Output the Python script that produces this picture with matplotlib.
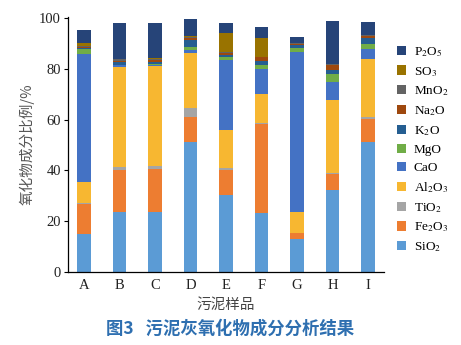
import matplotlib
matplotlib.use("Agg")
import matplotlib.pyplot as plt
from matplotlib.patches import Patch
import numpy as np

plt.rcParams['font.family'] = ['Liberation Serif', 'Noto Sans CJK SC', 'DejaVu Sans']
plt.rcParams['mathtext.fontset'] = 'stix'

samples = ['A', 'B', 'C', 'D', 'E', 'F', 'G', 'H', 'I']

# oxide contents (%) per sludge ash sample, stacked bottom to top
SiO2  = [15.1, 23.7, 23.7, 51.3, 30.3, 23.1, 12.9, 32.3, 51.3]
Fe2O3 = [11.8, 16.5, 16.7,  9.8,  9.9, 35.0,  2.3,  6.3,  8.8]
TiO2  = [ 0.2,  1.0,  1.3,  3.5,  0.6,  0.5,  0.1,  0.5,  1.0]
Al2O3 = [ 8.5, 39.4, 39.3, 21.5, 15.1, 11.5,  8.4, 28.6, 22.6]
CaO   = [50.1,  0.9,  0.6,  1.3, 27.6,  9.7, 62.8,  7.0,  4.0]
MgO   = [ 2.0,  0.2,  0.2,  1.3,  1.3,  1.7,  1.8,  3.1,  2.1]
K2O   = [ 0.4,  0.8,  1.0,  2.6,  0.6,  1.4,  1.1,  1.7,  2.2]
Na2O  = [ 0.5,  0.5,  0.6,  1.0,  1.0,  1.7,  0.4,  2.0,  1.1]
MnO2  = [ 0.2,  0.7,  0.5,  0.3,  0.3,  0.2,  0.2,  0.3,  0.2]
SO3   = [ 1.5,  0.2,  0.2,  0.2,  7.3,  7.5,  0.0,  0.0,  0.0]
P2O5  = [ 5.0, 14.0, 13.8,  6.8,  3.9,  4.3,  2.4, 17.2,  5.3]

series = [
    ('SiO$_2$', SiO2, '#5b9bd5'),
    ('Fe$_2$O$_3$', Fe2O3, '#ed7d31'),
    ('TiO$_2$', TiO2, '#a5a5a5'),
    ('Al$_2$O$_3$', Al2O3, '#f7b731'),
    ('CaO', CaO, '#4472c4'),
    ('MgO', MgO, '#70ad47'),
    ('K$_2$O', K2O, '#255e91'),
    ('Na$_2$O', Na2O, '#9e480e'),
    ('MnO$_2$', MnO2, '#636363'),
    ('SO$_3$', SO3, '#997300'),
    ('P$_2$O$_5$', P2O5, '#264478'),
]

fig = plt.figure(figsize=(4.61, 3.45), dpi=100)
ax = fig.add_axes([0.1475, 0.2116, 0.6855, 0.7391])

x = np.arange(len(samples))
bottom = np.zeros(len(samples))
handles = []
for label, vals, color in series:
    vals = np.array(vals)
    ax.bar(x, vals, width=0.39, bottom=bottom, color=color, linewidth=0)
    bottom += vals
    handles.append(Patch(facecolor=color, label=label))

ax.set_xlim(-0.45, 8.45)
ax.set_ylim(0, 100.4)
ax.set_yticks([0, 20, 40, 60, 80, 100])
ax.set_xticks(x)
ax.set_xticklabels(samples)
ax.tick_params(axis='x', length=0, pad=5, labelsize=10.5, colors='#222222')
ax.tick_params(axis='y', length=3, width=0.8, direction='out', pad=2, labelsize=10.5,
               labelcolor='#222222')
for s in ['top', 'right']:
    ax.spines[s].set_visible(False)
for s in ['left', 'bottom']:
    ax.spines[s].set_linewidth(0.9)

ax.set_xlabel('污泥样品', family=['Noto Sans CJK SC'], fontsize=10.5, color='#444444', labelpad=4)
ax.set_ylabel('氧化物成分比例/%', family=['Noto Sans CJK SC'], fontsize=10.5, color='#555555', labelpad=3)

leg = fig.legend(handles=handles[::-1], loc='upper left', bbox_to_anchor=(0.835, 0.904),
                 frameon=False, fontsize=9.5, handlelength=0.7, handleheight=0.7,
                 handletextpad=0.6, labelspacing=0.45)

fig.text(0.5, 0.048, '图3   污泥灰氧化物成分分析结果', family=['Noto Sans CJK SC'],
         fontsize=12.5, fontweight='bold', color='#2e6fb0', ha='center', va='center')

fig.savefig('out.png', dpi=100)
